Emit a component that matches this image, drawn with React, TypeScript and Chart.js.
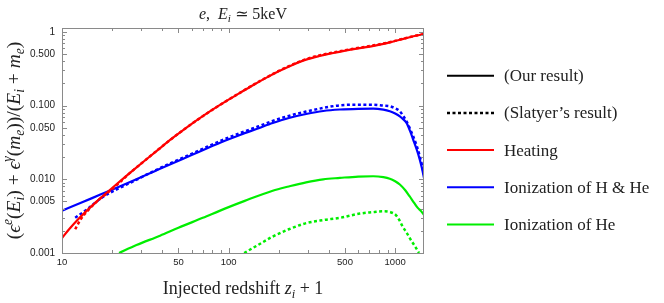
import React, { useEffect, useRef } from "react";
import { Chart, registerables } from "chart.js";

Chart.register(...registerables);

// ---------- data ----------
const X_HEAT_OURS = [10, 11, 12.5, 14, 16, 18, 20, 23, 27, 32, 38, 46, 57, 70, 85, 100, 117, 140, 170, 200, 240, 292, 350, 410, 462, 550, 640, 731, 850, 964, 1100, 1250, 1370, 1490];
const Y_HEAT_OURS = [0.0016, 0.00208, 0.00286, 0.0037, 0.0049, 0.0062, 0.00762, 0.00998, 0.01352, 0.01858, 0.02553, 0.03614, 0.052, 0.0719, 0.0959, 0.1205, 0.149, 0.189, 0.2415, 0.292, 0.354, 0.421, 0.471, 0.509, 0.537, 0.578, 0.612, 0.643, 0.687, 0.736, 0.796, 0.859, 0.9, 0.933];

const X_HEAT_SLATYER = [12, 13, 14.5, 16.5, 19, 22, 25, 27, 32, 38, 46, 57, 70, 85, 100, 117, 140, 170, 200, 240, 292, 350, 410, 462, 550, 640, 731, 850, 964, 1100, 1250, 1370, 1490];
const Y_HEAT_SLATYER = [0.0021, 0.0029, 0.0039, 0.0052, 0.0067, 0.0089, 0.0117, 0.01352, 0.01858, 0.02553, 0.03614, 0.052, 0.0719, 0.0959, 0.1205, 0.149, 0.19, 0.243, 0.295, 0.358, 0.427, 0.479, 0.518, 0.546, 0.587, 0.621, 0.652, 0.695, 0.742, 0.8, 0.861, 0.9, 0.933];

const X_ION_OURS = [10, 13, 17, 22, 28, 36, 46.6, 60, 75, 95, 117, 150, 184, 230, 292, 370, 466, 600, 738, 850, 929, 1000, 1067, 1120, 1170, 1230, 1283, 1350, 1406, 1450, 1490];
const Y_ION_OURS = [0.00376, 0.0048, 0.0062, 0.0079, 0.01, 0.0129, 0.0167, 0.0213, 0.0266, 0.0333, 0.04, 0.049, 0.058, 0.068, 0.077, 0.0845, 0.0885, 0.0905, 0.091, 0.088, 0.0837, 0.078, 0.0716, 0.065, 0.0582, 0.045, 0.0346, 0.025, 0.0185, 0.014, 0.0104];

const X_ION_SLATYER = [12.0, 14.1, 17.7, 22.1, 28.1, 35, 46.6, 60, 75, 95, 117, 150, 184, 230, 292, 370, 466, 600, 738, 850, 929, 1000, 1067, 1120, 1170, 1230, 1283, 1350, 1406, 1450, 1490];
const Y_ION_SLATYER = [0.003, 0.0039, 0.0058, 0.0076, 0.0099, 0.0127, 0.0172, 0.0221, 0.0279, 0.0352, 0.0423, 0.052, 0.062, 0.0725, 0.083, 0.093, 0.101, 0.103, 0.103, 0.1, 0.098, 0.092, 0.0837, 0.072, 0.0613, 0.048, 0.0383, 0.028, 0.0205, 0.0155, 0.0116];

const X_HE_OURS = [22, 28, 38.8, 50, 70, 95, 125, 184, 230, 292, 370, 466, 600, 738, 850, 929, 1000, 1067, 1150, 1220, 1300, 1367, 1430, 1490];
const Y_HE_OURS = [0.001, 0.00128, 0.00172, 0.0022, 0.003, 0.004, 0.0051, 0.007, 0.008, 0.0091, 0.01, 0.01045, 0.0109, 0.011, 0.0107, 0.0102, 0.0094, 0.0085, 0.0071, 0.0059, 0.0048, 0.0041, 0.0037, 0.0033];

const X_HE_SLATYER = [124, 150, 184, 230, 292, 370, 466, 614, 738, 847, 930, 1007, 1060, 1108, 1170, 1239, 1320, 1390];
const Y_HE_SLATYER = [0.001, 0.00128, 0.00167, 0.0021, 0.00254, 0.0028, 0.003, 0.00343, 0.00358, 0.00368, 0.0036, 0.0033, 0.0028, 0.0023, 0.0019, 0.00152, 0.00122, 0.001];

const X_TICKS = [10, 50, 100, 500, 1000];
const X_TICK_LABELS = ["10", "50", "100", "500", "1000"];
const Y_TICKS = [0.001, 0.005, 0.01, 0.05, 0.1, 0.5, 1];
const Y_TICK_LABELS = ["0.001", "0.005", "0.010", "0.050", "0.100", "0.500", "1"];

const LEGEND_LABELS = ["(Our result)", "(Slatyer\u2019s result)", "Heating", "Ionization of H & He", "Ionization of He"];
const LEGEND_COLORS = ["#000000", "#000000", "#ff0000", "#0000ff", "#00ee00"];
const LEGEND_DOTTED = [false, true, false, false, false];

const RED = "#ff0000";
const BLUE = "#0000ff";
const GREEN = "#00ee00";

const SERIF = '"Liberation Serif", "DejaVu Serif", serif';
const SANS = '"Liberation Sans", Arial, sans-serif';
const FRAME = "#8a8a8a";

type Seg = { t: string; it?: boolean; s?: "sup" | "sub" };

function segFont(seg: Seg, size: number) {
  const sz = seg.s ? size * 0.7 : size;
  return `${seg.it ? "italic " : ""}${sz}px ${SERIF}`;
}
function measureRich(ctx: CanvasRenderingContext2D, segs: Seg[], size: number) {
  let w = 0;
  for (const s of segs) {
    ctx.font = segFont(s, size);
    w += ctx.measureText(s.t).width;
  }
  return w;
}
function drawRich(ctx: CanvasRenderingContext2D, segs: Seg[], x: number, y: number, size: number, center: boolean) {
  const w = measureRich(ctx, segs, size);
  let cx = center ? x - w / 2 : x;
  ctx.textAlign = "left";
  ctx.textBaseline = "alphabetic";
  for (const s of segs) {
    ctx.font = segFont(s, size);
    const dy = s.s === "sup" ? -size * 0.4 : s.s === "sub" ? size * 0.22 : 0;
    ctx.fillText(s.t, cx, y + dy);
    cx += ctx.measureText(s.t).width;
  }
}

const TITLE: Seg[] = [
  { t: "e", it: true }, { t: ",  " }, { t: "E", it: true }, { t: "i", it: true, s: "sub" }, { t: " \u2243 5keV" },
];
const XTITLE: Seg[] = [
  { t: "Injected redshift " }, { t: "z", it: true }, { t: "i", it: true, s: "sub" }, { t: " + 1" },
];
const YTITLE: Seg[] = [
  { t: "(" }, { t: "\u03f5", it: true }, { t: "e", it: true, s: "sup" }, { t: "(" }, { t: "E", it: true }, { t: "i", it: true, s: "sub" },
  { t: ") + " }, { t: "\u03f5", it: true }, { t: "\u03b3", it: true, s: "sup" }, { t: "(" }, { t: "m", it: true }, { t: "e", it: true, s: "sub" },
  { t: "))/(" }, { t: "E", it: true }, { t: "i", it: true, s: "sub" }, { t: " + " }, { t: "m", it: true }, { t: "e", it: true, s: "sub" }, { t: ")" },
];

function pts(xs: number[], ys: number[]) {
  return xs.map((x, i) => ({ x, y: ys[i] }));
}

const decorPlugin = {
  id: "decor",
  afterDraw(chart: any) {
    const ctx: CanvasRenderingContext2D = chart.ctx;
    const { left, right, top, bottom } = chart.chartArea;
    const xs = chart.scales.x;
    const ys = chart.scales.y;
    ctx.save();
    // frame
    ctx.strokeStyle = FRAME;
    ctx.lineWidth = 1;
    ctx.strokeRect(Math.round(left) + 0.5, Math.round(top) + 0.5, Math.round(right - left) - 1, Math.round(bottom - top));
    // ticks
    const xMinor: number[] = [];
    for (const d of [10, 100, 1000]) for (let m = 2; m <= 9; m++) if (m !== 5) xMinor.push(d * m);
    const yMinor: number[] = [];
    for (const d of [0.001, 0.01, 0.1]) for (let m = 2; m <= 9; m++) if (m !== 5) yMinor.push(d * m);
    ctx.beginPath();
    const xTick = (v: number, len: number) => {
      const p = Math.round(xs.getPixelForValue(v)) + 0.5;
      if (p < left || p > right) return;
      ctx.moveTo(p, bottom); ctx.lineTo(p, bottom - len);
      ctx.moveTo(p, top); ctx.lineTo(p, top + len);
    };
    const yTick = (v: number, len: number) => {
      const p = Math.round(ys.getPixelForValue(v)) + 0.5;
      if (p < top || p > bottom) return;
      ctx.moveTo(left, p); ctx.lineTo(left + len, p);
      ctx.moveTo(right, p); ctx.lineTo(right - len, p);
    };
    X_TICKS.forEach((v) => xTick(v, 5));
    xMinor.forEach((v) => xTick(v, 3));
    Y_TICKS.forEach((v) => yTick(v, 5));
    yMinor.forEach((v) => yTick(v, 3));
    ctx.stroke();

    // titles
    ctx.fillStyle = "#222";
    drawRich(ctx, TITLE, (left + right) / 2, 18.5, 16, true);
    drawRich(ctx, XTITLE, (left + right) / 2, 294, 18, true);
    ctx.save();
    ctx.translate(20, (top + bottom) / 2);
    ctx.rotate(-Math.PI / 2);
    drawRich(ctx, YTITLE, 0, 0, 19.5, true);
    ctx.restore();

    // legend
    LEGEND_LABELS.forEach((lab, i) => {
      const y = 75.7 + i * 37.2;
      ctx.beginPath();
      ctx.strokeStyle = LEGEND_COLORS[i];
      ctx.lineWidth = LEGEND_DOTTED[i] ? 2.5 : 2;
      ctx.setLineDash(LEGEND_DOTTED[i] ? [3, 2.5] : []);
      ctx.moveTo(447, y);
      ctx.lineTo(494, y);
      ctx.stroke();
      ctx.setLineDash([]);
      ctx.fillStyle = "#222";
      ctx.font = `17px ${SERIF}`;
      ctx.textAlign = "left";
      ctx.textBaseline = "middle";
      ctx.fillText(lab, 504, y + 1);
    });
    ctx.restore();
  },
};

export default function App() {
  const ref = useRef<HTMLCanvasElement | null>(null);
  useEffect(() => {
    if (!ref.current) return;
    const solid = (data: any, color: string) => ({
      data, borderColor: color, borderWidth: 2.2, pointRadius: 0, cubicInterpolationMode: "monotone" as const, fill: false,
    });
    const dotted = (data: any, color: string) => ({
      data, borderColor: color, borderWidth: 2.5, borderDash: [3, 2.5], pointRadius: 0, cubicInterpolationMode: "monotone" as const, fill: false,
    });
    const chart = new Chart(ref.current, {
      type: "line",
      data: {
        datasets: [
          solid(pts(X_HEAT_OURS, Y_HEAT_OURS), RED),
          dotted(pts(X_HEAT_SLATYER, Y_HEAT_SLATYER), RED),
          solid(pts(X_ION_OURS, Y_ION_OURS), BLUE),
          dotted(pts(X_ION_SLATYER, Y_ION_SLATYER), BLUE),
          solid(pts(X_HE_OURS, Y_HE_OURS), GREEN),
          dotted(pts(X_HE_SLATYER, Y_HE_SLATYER), GREEN),
        ] as any,
      },
      options: {
        responsive: false,
        devicePixelRatio: 1,
        animation: false,
        layout: { padding: { left: 0, top: 28, right: 240, bottom: 0 } },
        plugins: { legend: { display: false }, title: { display: false }, tooltip: { enabled: false } },
        scales: {
          x: {
            type: "logarithmic",
            min: 10,
            max: 1490,
            bounds: "data",
            grid: { display: false, drawTicks: false },
            border: { display: false },
            afterBuildTicks: (s: any) => { s.ticks = X_TICKS.map((v) => ({ value: v })); },
            afterFit: (s: any) => { s.height = 50; },
            ticks: {
              autoSkip: false,
              maxRotation: 0,
              padding: 4,
              color: "#222",
              font: { family: SANS, size: 9.5 },
              callback: (v: any) => { const i = X_TICKS.indexOf(Number(v)); return i >= 0 ? X_TICK_LABELS[i] : ""; },
            },
          },
          y: {
            type: "logarithmic",
            min: 0.001,
            max: 1.13,
            bounds: "data",
            grid: { display: false, drawTicks: false },
            border: { display: false },
            afterBuildTicks: (s: any) => { s.ticks = Y_TICKS.map((v) => ({ value: v })); },
            afterFit: (s: any) => { s.width = 62; },
            ticks: {
              autoSkip: false,
              padding: 7,
              color: "#222",
              font: { family: SANS, size: 10 },
              callback: (v: any) => { const i = Y_TICKS.findIndex((t) => Math.abs(t - Number(v)) < t * 1e-6); return i >= 0 ? Y_TICK_LABELS[i] : ""; },
            },
          },
        },
      } as any,
      plugins: [decorPlugin],
    });
    return () => chart.destroy();
  }, []);
  return (
    <div style={{ position: "absolute", left: 0, top: 0, width: 664, height: 303, background: "#fff" }}>
      <canvas ref={ref} width={664} height={303} />
    </div>
  );
}
